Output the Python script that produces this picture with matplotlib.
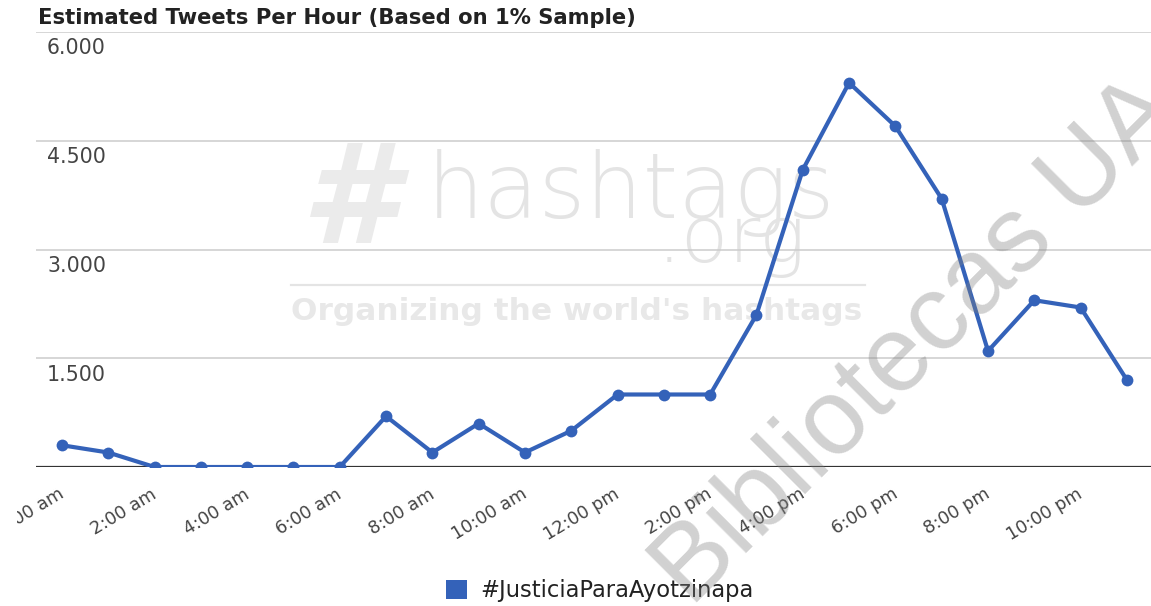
import matplotlib
matplotlib.use("Agg")
import matplotlib.pyplot as plt
from matplotlib.patches import Patch
from matplotlib.lines import Line2D
from matplotlib.transforms import ScaledTranslation, Bbox, TransformedBbox

# ---- data ----
hours = list(range(24))
tweets = [300, 200, 0, 0, 0, 0, 0, 700, 200, 600, 200, 500,
          1000, 1000, 1000, 2100, 4100, 5300, 4700, 3700, 1600, 2300, 2200, 1200]
tick_hours = [0, 2, 4, 6, 8, 10, 12, 14, 16, 18, 20, 22]
tick_labels = ["12:00 am", "2:00 am", "4:00 am", "6:00 am", "8:00 am", "10:00 am",
               "12:00 pm", "2:00 pm", "4:00 pm", "6:00 pm", "8:00 pm", "10:00 pm"]
y_ticks = [1500, 3000, 4500, 6000]
series_name = "#JusticiaParaAyotzinapa"
title = "Estimated Tweets Per Hour (Based on 1% Sample)"

# ---- layout helpers (pixel -> figure fraction) ----
W, H = 1151, 606
fig = plt.figure(figsize=(W / 100, H / 100), dpi=100)
fig.patch.set_facecolor("white")


def fx(px):
    return px / W


def fy(py):
    return 1 - py / H


LINE_COLOR = "#3462b9"

ax = fig.add_axes([fx(36), fy(467), fx(1151) - fx(36), fy(32) - fy(467)])
ax.set_xlim(-0.56, 23.52)
ax.set_ylim(0, 6000)
for s in ax.spines.values():
    s.set_visible(False)
ax.set_yticks([])

# gridlines and baseline
for v in y_ticks:
    ax.axhline(v, color="#cccccc", lw=1.1, zorder=0.5)
ax.axhline(0, color="#333333", lw=1.6, zorder=1.5)

# y labels inside the plot, under each gridline
for v in y_ticks:
    ax.annotate(f"{v:,.0f}".replace(",", "."), xy=(0.0099, v),
                xycoords=("axes fraction", "data"), xytext=(0, -4.5),
                textcoords="offset points", ha="left", va="top",
                fontsize=14.8, color="#444444")

# data line
ax.plot(hours, tweets, color=LINE_COLOR, lw=3.0, marker="o", ms=8.5,
        mew=0, zorder=3, solid_joinstyle="round")

# x tick labels
ax.set_xticks(tick_hours)
ax.set_xticklabels(tick_labels)
ax.tick_params(axis="x", length=0, pad=13, labelsize=12.7, labelcolor="#444444")
shift = ScaledTranslation(-4 / 100, 0, fig.dpi_scale_trans)
clip = TransformedBbox(Bbox([[17 / W, 0], [1, 1]]), fig.transFigure)
for i, lbl in enumerate(ax.get_xticklabels()):
    lbl.set_rotation(31)
    lbl.set_ha("right")
    lbl.set_va("top")
    lbl.set_rotation_mode("anchor")
    lbl.set_transform(lbl.get_transform() + shift)
    if i == 0:
        lbl.set_clip_on(True)
        lbl.set_clip_box(clip)

# hashtags.org watermark (behind grid)
ax.text(fx(349), fy(205), "#", transform=fig.transFigure, fontsize=100,
        fontweight="bold", fontstyle="oblique", color="#ebebeb", ha="center",
        va="center", zorder=0.3)
ax.text(fx(427), fy(218), "hashtags", transform=fig.transFigure, fontsize=65,
        fontweight="light", color="#e4e4e4", ha="left", va="baseline",
        zorder=0.3)
ax.text(fx(806), fy(262), ".org", transform=fig.transFigure, fontsize=56,
        fontweight="light", color="#e4e4e4", ha="right", va="baseline",
        zorder=0.3)
ax.add_line(Line2D([fx(291), fx(865)], [fy(285), fy(285)],
                   transform=fig.transFigure, color="#e4e4e4", lw=1.6,
                   zorder=0.3))
ax.text(fx(291), fy(320), "Organizing the world's hashtags",
        transform=fig.transFigure, fontsize=22.5, fontweight="bold",
        color="#e8e8e8", ha="left", va="baseline", zorder=0.3)

# title
fig.text(fx(38), fy(24), title, fontsize=15.2, fontweight="bold",
         color="#222222", ha="left", va="baseline")

# legend
fig.legend(handles=[Patch(facecolor=LINE_COLOR, edgecolor="none")],
           labels=[series_name], loc="center",
           bbox_to_anchor=(fx(600), fy(591)), frameon=False, fontsize=16.3,
           handlelength=0.92, handleheight=0.9, handletextpad=0.58,
           borderpad=0, labelcolor="#222222")

# diagonal library watermark (on top, semi-transparent)
fig.text(fx(917), fy(343), "Bibliotecas UA", fontsize=77,
         family="Liberation Sans", color="#808080",
         alpha=0.36, rotation=45, rotation_mode="anchor", ha="center",
         va="center", zorder=10)

fig.savefig("out.png", dpi=100, facecolor="white")
